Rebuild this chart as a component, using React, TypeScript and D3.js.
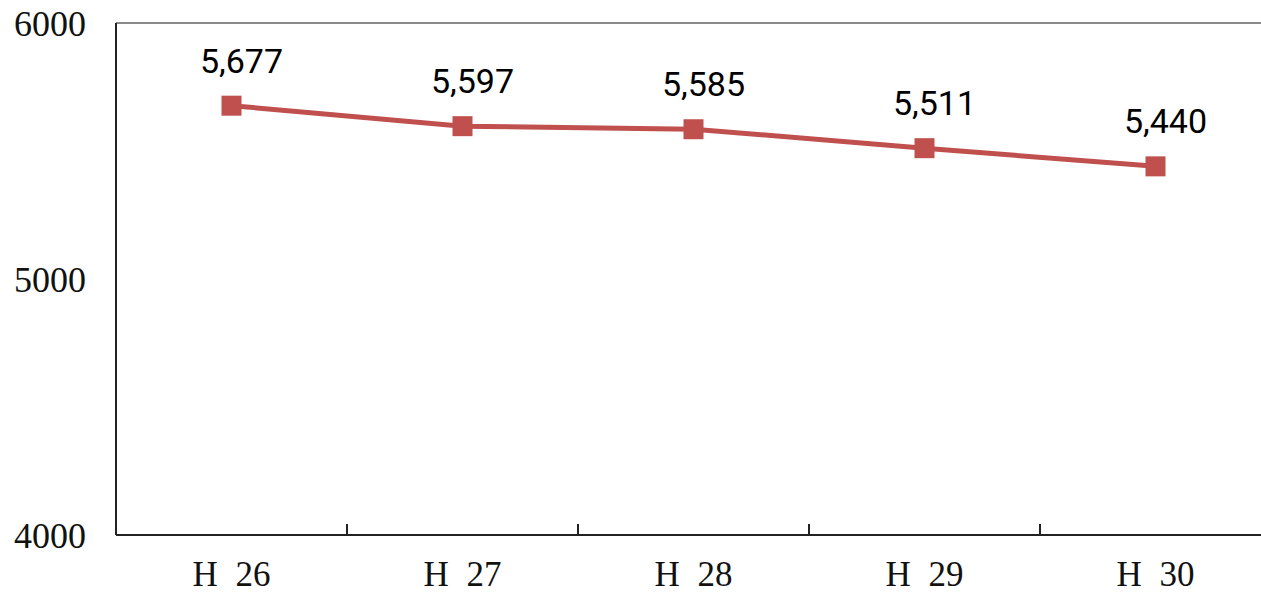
import React, { useEffect, useRef } from "react";
import * as d3 from "d3";

const categories = ["H\u00a0\u00a026", "H\u00a0\u00a027", "H\u00a0\u00a028", "H\u00a0\u00a029", "H\u00a0\u00a030"];
const values = [5677, 5597, 5585, 5511, 5440];
const yTicks = [4000, 5000, 6000];

export default function App() {
  const ref = useRef<SVGSVGElement>(null);

  useEffect(() => {
    const W = 1261, H = 595;
    const margin = { top: 23, right: -10, bottom: 60, left: 116 };
    const w = W - margin.left - margin.right;
    const h = H - margin.top - margin.bottom;

    const svg = d3.select(ref.current);
    svg.selectAll("*").remove();
    const g = svg.append("g").attr("transform", `translate(${margin.left}, ${margin.top})`);

    const x = d3.scaleBand().domain(categories).range([0, w]);
    const y = d3.scaleLinear().domain([4000, 6000]).range([h, 0]);

    // top border
    g.append("line").attr("x1", 0).attr("x2", w).attr("y1", 0).attr("y2", 0)
      .attr("stroke", "#8a8a8a").attr("stroke-width", 2);

    // left axis
    g.append("line").attr("x1", 0).attr("x2", 0).attr("y1", 0).attr("y2", h)
      .attr("stroke", "#222").attr("stroke-width", 2);

    // y labels
    g.selectAll(".ylab").data(yTicks).join("text")
      .attr("class", "ylab")
      .attr("x", -30)
      .attr("y", (d) => y(d))
      .attr("dy", "0.35em")
      .attr("text-anchor", "end")
      .style("font-family", "'Liberation Serif', 'DejaVu Serif', serif")
      .style("font-size", "36px")
      .attr("fill", "#111")
      .text((d) => d);

    // bottom axis
    g.append("line").attr("x1", 0).attr("x2", w).attr("y1", h).attr("y2", h)
      .attr("stroke", "#222").attr("stroke-width", 2);

    // category boundary ticks, pointing inward
    g.selectAll(".xtick").data(categories.slice(1)).join("line")
      .attr("class", "xtick")
      .attr("x1", (d) => x(d)!).attr("x2", (d) => x(d)!)
      .attr("y1", h).attr("y2", h - 11)
      .attr("stroke", "#222").attr("stroke-width", 2);

    // x labels
    g.selectAll(".xlab").data(categories).join("text")
      .attr("class", "xlab")
      .attr("x", (d) => x(d)! + x.bandwidth() / 2)
      .attr("y", h + 51)
      .attr("text-anchor", "middle")
      .style("font-family", "'Liberation Serif', 'DejaVu Serif', serif")
      .style("font-size", "35px")
      .attr("fill", "#111")
      .text((d) => d);

    const pts = categories.map((c, i) => ({ c, v: values[i] }));
    const cx = (d: { c: string }) => x(d.c)! + x.bandwidth() / 2;

    const line = d3.line<{ c: string; v: number }>()
      .x(cx)
      .y((d) => y(d.v));

    g.append("path").datum(pts)
      .attr("d", line)
      .attr("fill", "none")
      .attr("stroke", "#C0504D")
      .attr("stroke-width", 5);

    const ms = 20;
    g.selectAll(".mark").data(pts).join("rect")
      .attr("class", "mark")
      .attr("x", (d) => cx(d) - ms / 2)
      .attr("y", (d) => y(d.v) - ms / 2)
      .attr("width", ms).attr("height", ms)
      .attr("fill", "#C0504D");

    g.selectAll(".dlab").data(pts).join("text")
      .attr("class", "dlab")
      .attr("x", (d) => cx(d) + 10)
      .attr("y", (d) => y(d.v) - 33)
      .attr("text-anchor", "middle")
      .style("font-family", "Roboto, 'Liberation Sans', Arial, sans-serif")
      .style("font-size", "34px")
      .attr("fill", "#000")
      .text((d) => d3.format(",")(d.v));
  }, []);

  return <svg ref={ref} width={1261} height={595} style={{ position: "absolute", left: 0, top: 0 }} />;
}
